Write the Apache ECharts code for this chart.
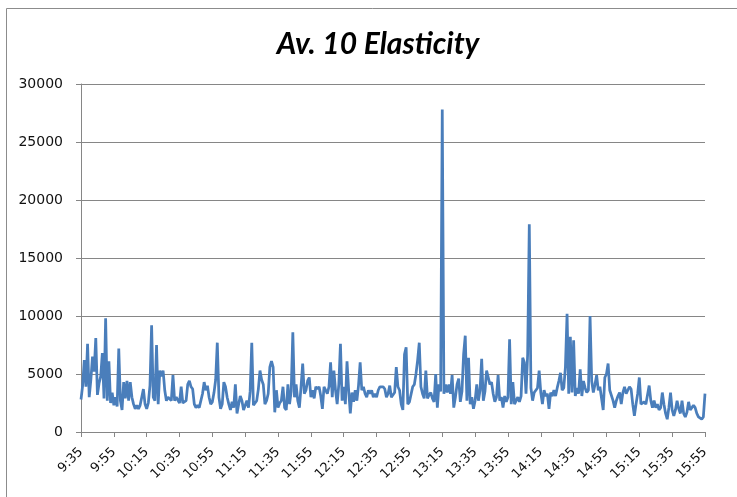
<!DOCTYPE html>
<html>
<head>
<meta charset="utf-8">
<script src="https://cdn.jsdelivr.net/npm/echarts@6/dist/echarts.min.js"></script>
<style>html,body{margin:0;padding:0;background:#fff;}#c{width:737px;height:497px;}</style>
</head>
<body>
<div id="c"></div>
<script>
const titleText = "Av. 10 Elasticity";
const startTime = "9:35";
const endTime = "15:55";
const tickLabels = ["9:35","9:55","10:15","10:35","10:55","11:15","11:35","11:55","12:15","12:35","12:55","13:15","13:35","13:55","14:15","14:35","14:55","15:15","15:35","15:55"];
const yTicks = [0, 5000, 10000, 15000, 20000, 25000, 30000];
const elasticity = [
2800,4000,6200,3900,7600,3000,4500,6500,5200,8100,
3200,4200,4800,6800,2900,9800,2700,6100,2500,3400,
2300,3000,2200,7200,2700,1900,4300,2900,4400,2700,
4300,3000,2400,2000,2300,2000,2300,3000,3700,2400,
2000,2500,4000,9200,3000,2700,7500,2400,5300,4800,
5300,3600,2700,3000,2900,2700,4900,2700,3000,2900,
2500,3900,2500,2400,2700,4100,4400,3900,3700,2400,
2100,2300,2100,2100,3300,4300,3600,4000,3000,2400,
2600,3400,4500,7700,3000,2000,2400,4300,3900,3000,
2400,1900,2600,2100,4100,1600,2400,3100,2700,1900,
2000,2700,2100,3500,7700,2300,2400,2700,3700,5300,
4500,4100,2400,2700,3300,5600,6100,5600,1700,3600,
2100,2500,2700,3900,2100,1900,4100,2400,3500,8600,
3000,4100,2700,2100,3900,5900,3300,3600,4400,4700,
3000,3600,2900,3900,3700,3900,3100,2000,3900,3600,
3300,3900,6000,3000,5300,3600,2400,4100,7600,2700,
3900,2400,6100,3600,1600,3400,2600,3600,2700,4000,
6000,3600,3900,3300,3000,3600,3300,3600,3000,3300,
3000,3600,3900,4000,3900,3700,3000,3300,4000,3000,
3000,3400,5600,3900,3600,2400,1900,6700,7300,2400,
2600,2700,3900,4100,5000,6200,7700,3900,3300,2900,
5300,2900,3200,3400,2900,2600,5000,2100,4100,3500,
27800,3300,4100,3400,4100,3300,4900,2100,3000,4100,
4600,2600,3500,6700,8300,2700,6400,2400,3000,2000,
2700,4100,2700,3600,6300,2700,3500,5300,5400,4100,
4300,3300,2600,3000,4900,2700,3000,2100,3100,2600,
3000,8000,2400,4300,2400,2300,3000,2600,3100,6400,
6000,3300,6700,17900,3800,2700,3400,3400,3800,5300,
3400,2400,3600,3100,3300,2000,3400,3100,3600,3100,
3800,4400,5100,3600,3800,5600,10200,3300,8200,3400,
7900,3100,3800,3300,5400,3100,4400,3800,3400,3600,
10000,4400,3400,4100,4900,3600,3900,4000,1900,4700,
5000,5900,3600,3700,2700,2100,2700,3100,3400,2400,
3400,3900,3300,3600,3900,3700,2400,1400,2400,3300,
4700,2400,2400,2600,2400,2300,4000,2700,2100,2700,
2100,2400,1900,2100,3400,2400,1600,1100,2100,3400,
1900,1400,1900,2700,2000,1600,2700,1600,1300,1700,
2600,1900,2100,2300,2100,1600,1300,1300,1100,1300,
3300
];

// per-minute category labels from startTime
function toMin(t){const p=t.split(':');return +p[0]*60+ +p[1];}
const categories = [];
for (let m = toMin(startTime); m <= toMin(endTime); m++) {
  categories.push(Math.floor(m/60) + ':' + String(m%60).padStart(2,'0'));
}
const isTick = function(i, v){return tickLabels.indexOf(v) >= 0;};

const chart = echarts.init(document.getElementById('c'), null, {renderer:'canvas'});
chart.setOption({
  animation: false,
  backgroundColor: '#fff',
  graphic: [{
    type: 'rect', silent: true, z: -1,
    shape: {x: 6.5, y: 8.5, width: 800, height: 700},
    style: {fill: 'none', stroke: '#8c8c8c', lineWidth: 1}
  }],
  title: {
    text: titleText,
    left: 373, top: 24, textAlign: 'center',
    textStyle: {fontFamily: 'Lato', fontStyle: 'italic', fontWeight: 'bold', fontSize: 30, color: '#000'}
  },
  grid: {left: 81, right: 32, top: 84, bottom: 65, containLabel: false},
  xAxis: {
    type: 'category',
    data: categories,
    boundaryGap: false,
    axisLine: {lineStyle: {color: '#868686', width: 1}},
    axisTick: {interval: isTick, length: 5, lineStyle: {color: '#868686'}},
    axisLabel: {
      interval: isTick,
      rotate: 45, margin: 18,
      fontFamily: 'DejaVu Sans', fontSize: 13, color: '#111'
    },
    splitLine: {show: false}
  },
  yAxis: {
    type: 'value',
    min: yTicks[0], max: yTicks[yTicks.length-1], interval: yTicks[1]-yTicks[0],
    axisLine: {show: true, lineStyle: {color: '#868686', width: 1}},
    axisTick: {show: true, inside: false, length: 5, lineStyle: {color: '#868686'}},
    axisLabel: {margin: 18, fontFamily: 'DejaVu Sans', fontSize: 14, color: '#111', formatter: function(v){return String(v);}},
    splitLine: {show: true, lineStyle: {color: '#868686', width: 1}}
  },
  series: [{
    type: 'line',
    data: elasticity,
    symbol: 'none',
    smooth: false,
    lineStyle: {color: '#4a7ebb', width: 2.75},
    itemStyle: {color: '#4a7ebb'}
  }]
});
</script>
</body>
</html>
